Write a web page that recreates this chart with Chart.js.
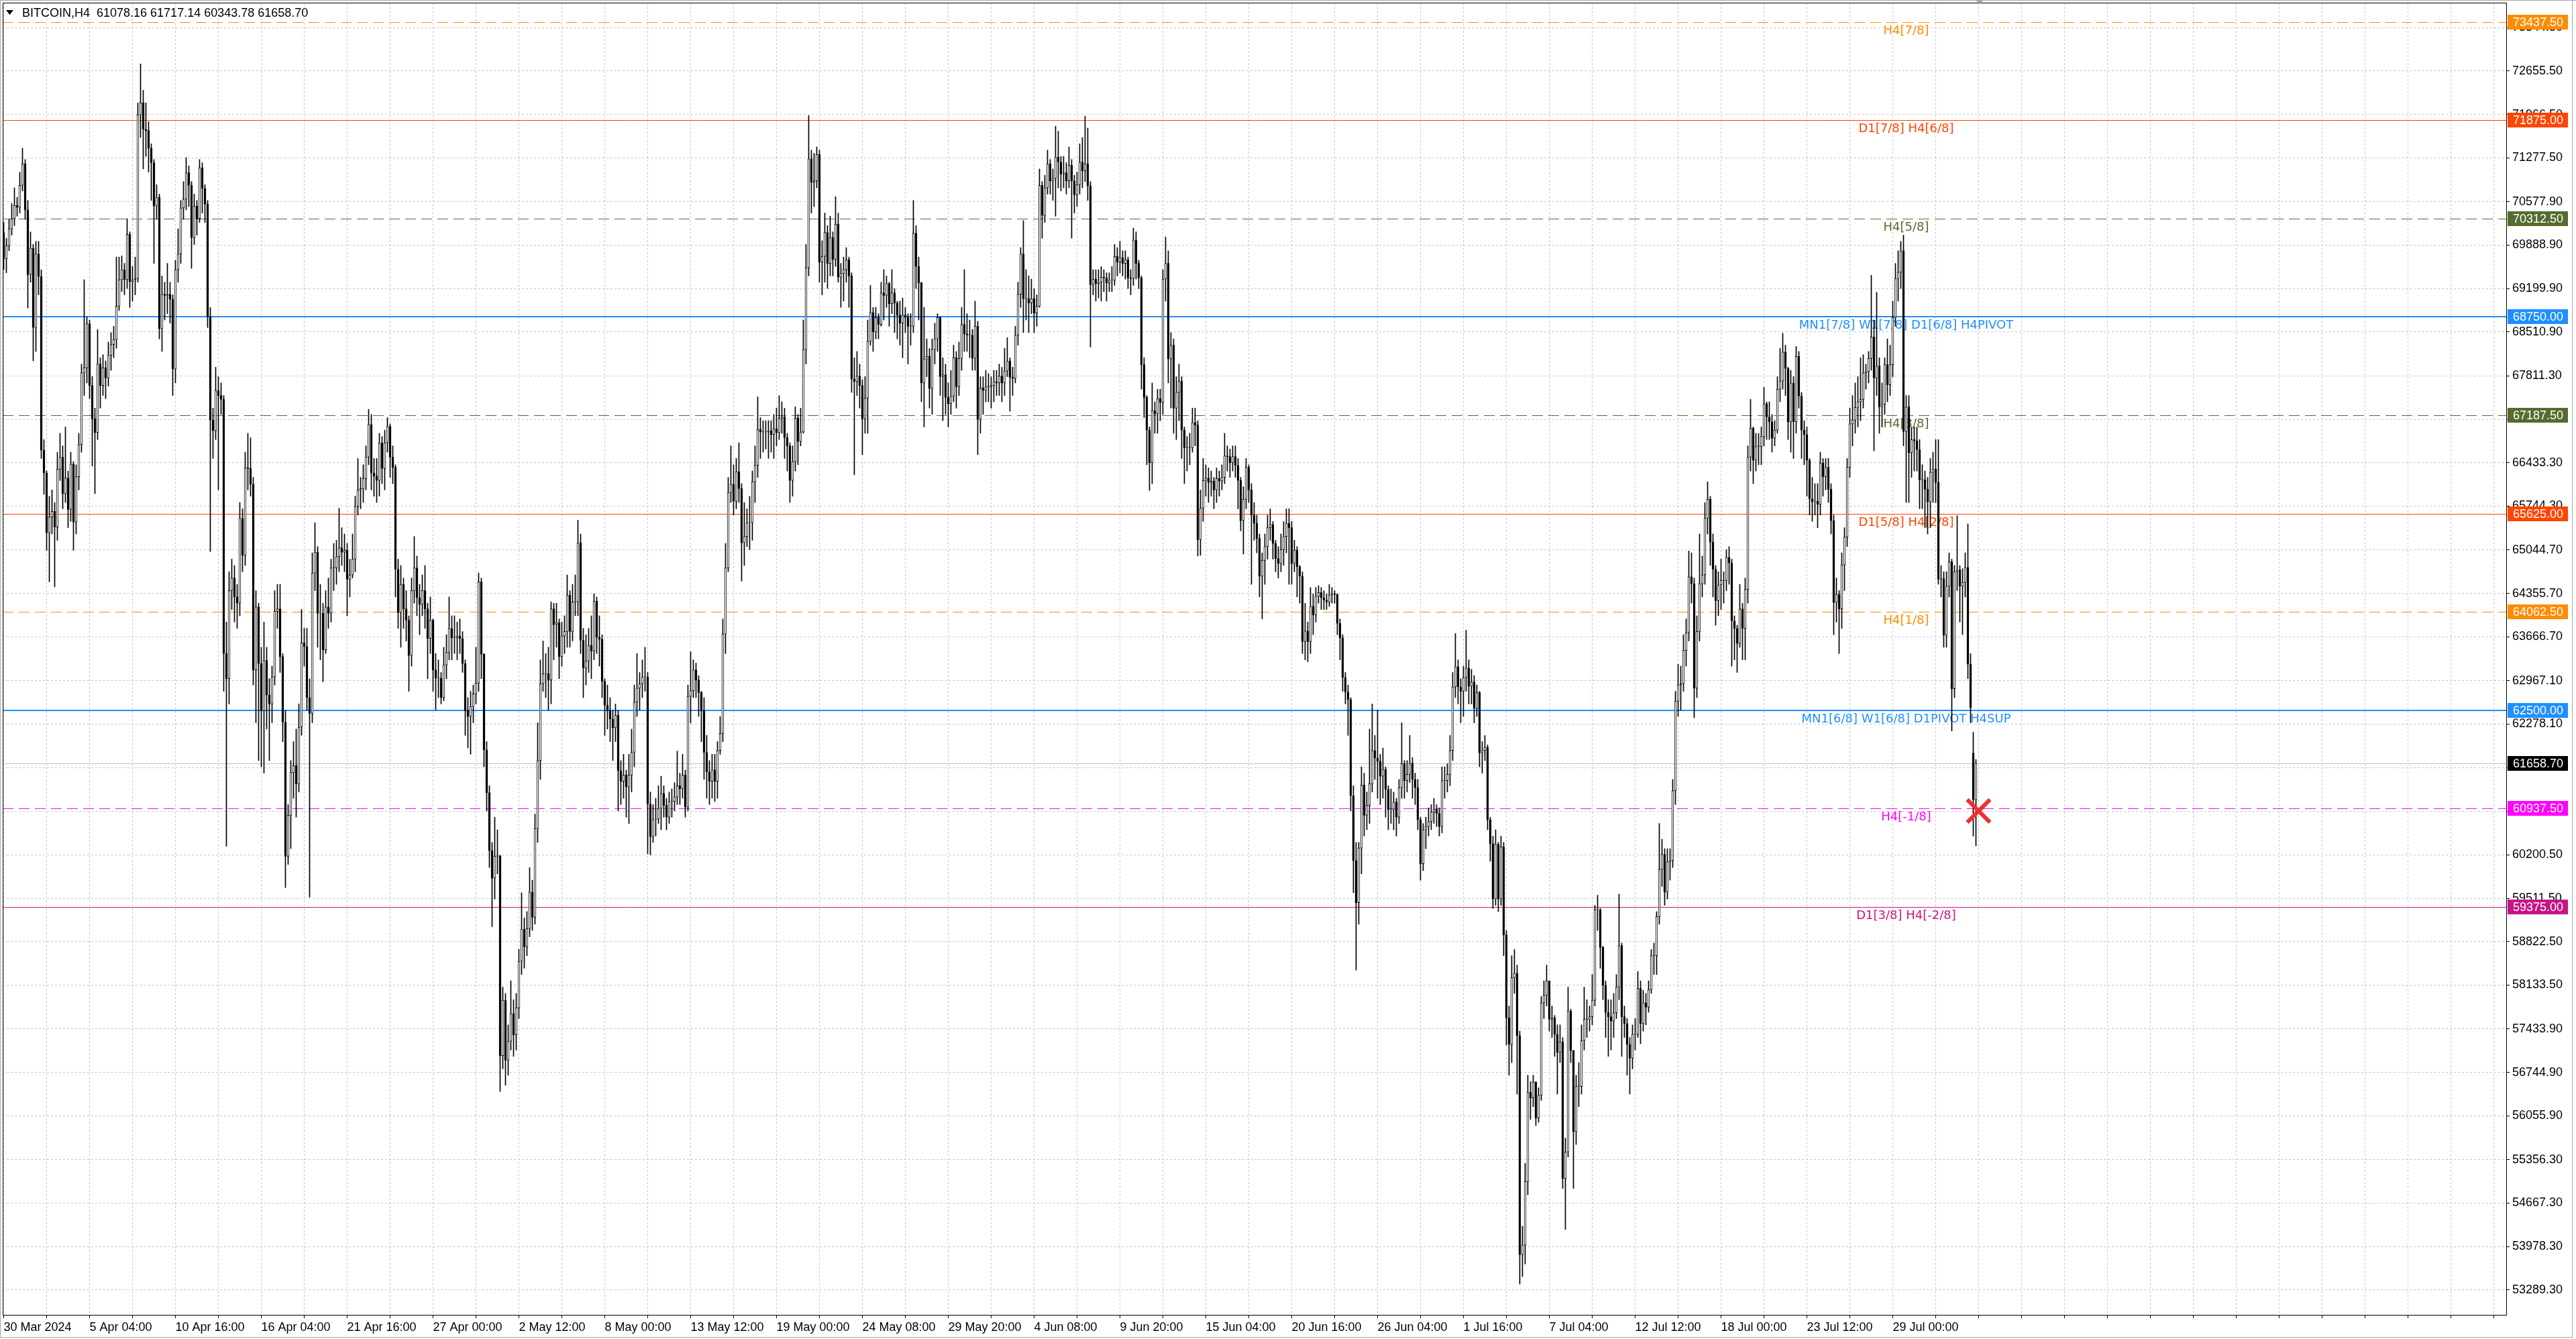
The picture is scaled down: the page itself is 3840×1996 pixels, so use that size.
<!DOCTYPE html>
<html>
<head>
<meta charset="utf-8">
<script src="https://cdn.jsdelivr.net/npm/chart.js@4.4.1/dist/chart.umd.min.js"></script>
<style>
html,body{margin:0;padding:0;background:#ffffff;overflow:hidden}
#wrap{position:relative;width:3840px;height:1996px}
canvas{display:block}
</style>
</head>
<body>
<div id="wrap"><canvas id="c" width="3840" height="1996"></canvas></div>
<script>
// ---------------- data ----------------
const symbolName = 'BITCOIN,H4';

const timeLabels = ['30 Mar 2024','5 Apr 04:00','10 Apr 16:00','16 Apr 04:00','21 Apr 16:00','27 Apr 00:00',
  '2 May 12:00','8 May 00:00','13 May 12:00','19 May 00:00','24 May 08:00','29 May 20:00','4 Jun 08:00',
  '9 Jun 20:00','15 Jun 04:00','20 Jun 16:00','26 Jun 04:00','1 Jul 16:00','7 Jul 04:00','12 Jul 12:00',
  '18 Jul 00:00','23 Jul 12:00','29 Jul 00:00'];

const yTickValues = [73344.5,72655.5,71966.5,71277.5,70577.9,69888.9,69199.9,68510.9,67811.3,67122.3,66433.3,
  65744.3,65044.7,64355.7,63666.7,62967.1,62278.1,61589.1,60889.5,60200.5,59511.5,58822.5,58133.5,57433.9,
  56744.9,56055.9,55356.3,54667.3,53978.3,53289.3];

const opens = [
70090,69670,69880,70150,70310,70520,70490,70840,71180,70450,
69420,69840,68580,69750,69390,66630,66270,65320,65570,65660,
65410,66330,66520,65940,66190,65690,66410,65490,66210,66720,
67860,67940,68640,67660,67130,66910,68000,67660,67940,67780,
68140,68310,68390,68920,69340,69500,69340,70060,69310,69340,
69360,71960,72150,71730,71710,71430,71200,70510,70650,68560,
69110,69090,69110,69030,67920,69500,69750,70480,70620,71040,
70840,70010,70510,70310,71120,70790,70540,68750,67110,66940,
67580,67500,67440,63400,63000,64400,64600,64300,64200,65550,
64960,66350,66340,66090,63140,64140,63240,62490,63290,62740,
62600,63030,64070,64110,63350,62310,60180,60830,61510,61620,
61330,62230,63570,63510,62700,62450,64680,65010,64040,64040,
63460,64140,64040,64760,64760,64940,65080,65010,65040,64580,
64650,64900,65740,66000,66020,66180,66520,67040,66270,66220,
66150,66750,66340,66750,67010,66520,66360,64740,64050,64500,
64110,63930,63370,64400,64760,64290,64180,64400,64110,63640,
63930,63140,63010,63010,62700,63220,63420,63800,63650,63650,
63680,63640,63240,62490,62400,62560,62760,62930,64540,63390,
61870,61190,60270,59830,60180,60180,57010,57890,56940,57240,
57680,57340,57770,58510,59020,58740,59030,59610,59210,60620,
61700,62920,63080,63080,62980,64110,63860,63890,63350,63680,
63750,64330,63750,64220,64220,65160,63610,63170,63280,63530,
63440,64230,63660,63630,62960,62580,62490,62360,62220,62420,
61540,61370,61470,61280,61470,61830,62630,62850,62920,63030,
63030,61010,60490,60760,60770,60940,61180,60990,60800,61050,
61050,61120,61300,61250,61470,60960,62720,62810,63140,62980,
62780,62490,61830,61520,61370,61550,61370,61860,62130,63710,
64760,65960,66090,65820,66290,66020,65160,65260,65480,65480,
66130,66390,66960,66920,66920,66920,66940,66880,66970,66910,
67140,67160,66830,66700,66150,66450,67140,66770,66920,68230,
69530,71260,70890,70910,71330,69620,69710,70090,69600,70010,
69660,70220,69380,69440,69500,69660,69400,67760,67720,67810,
67660,67130,67460,68360,68820,68510,68740,68630,69130,69090,
69280,68960,69130,68970,68780,68650,68780,68740,68600,68600,
70080,69550,69290,67700,68080,68120,67610,68230,68400,68740,
67800,67830,67470,67370,67490,68100,67640,68090,68630,68480,
68460,68460,68090,68600,67120,67620,67580,67640,67640,67660,
67720,67700,67810,67700,67890,68050,67790,67770,68460,69110,
69750,69040,69040,68970,69040,68810,68920,70840,70360,70800,
71180,70910,70950,71290,71210,71020,71040,70910,71160,70910,
70690,70850,71210,71070,71180,70830,69260,69350,69280,69300,
69380,69370,69290,69330,69330,69710,69620,69690,69600,69660,
69370,69360,69970,69600,69370,67990,67470,66950,66430,67260,
67210,67450,67390,69350,69600,68080,68300,67300,67550,67730,
66950,66670,66670,66670,67070,67030,65210,65710,66150,66190,
66120,66140,66000,66180,66140,66200,66540,66530,66430,66530,
66390,66150,65510,65850,66360,66000,65600,65470,65230,64630,
64880,65100,65400,65450,65150,64910,64830,65050,65260,65470,
65400,64830,65040,64780,64630,63590,63760,63590,64150,64010,
64310,64370,64290,64250,64220,64330,64350,64340,63880,63650,
63020,62790,62670,61140,60110,59440,60310,61310,60830,60990,
61330,61860,61740,61690,61450,61560,61240,60920,60920,61040,
60800,61270,61650,61380,61480,61660,61400,61270,60760,60060,
60600,60650,60730,60880,60930,60860,60650,61380,61380,61480,
61860,62870,63190,62870,62800,63020,63170,62880,62950,62530,
62780,61820,61860,61910,60760,60380,59500,60370,59500,60330,
58930,57610,57190,58250,58320,57330,53850,54000,55010,56430,
56340,56590,56020,56380,57850,57970,58200,57590,57610,57350,
57060,57230,55060,55480,57720,57090,55800,56520,56520,57250,
57590,57590,57630,57890,59330,59330,58730,58130,57700,57630,
57560,57690,58100,58760,57630,57520,57190,56970,57350,57350,
58080,57520,57850,57780,58060,58600,58600,59220,59970,60210,
59610,60090,60110,61220,62640,62900,62920,63450,63730,64620,
64510,62850,63750,64510,64650,65550,65850,65170,64740,64240,
64490,64560,64560,64930,64840,63920,63800,63560,64110,63800,
64420,66520,66980,66470,66690,66690,66850,67370,67160,67080,
66820,66950,67600,67730,68190,67930,67080,67700,67080,68120,
67490,66950,66880,66470,65860,65810,65820,65770,66430,66210,
66360,66010,65510,64210,64340,64110,64810,65250,66360,67050,
67110,67310,67400,67440,67860,67880,68090,68430,67780,67970,
67320,67360,67990,67670,67990,68740,69360,69460,69800,66930,
67320,66590,66800,66780,66640,66160,66160,66010,65810,66280,
66330,66120,64580,64590,63690,64470,64860,62840,64700,64730,
64470,64530,64770,63230,61820,61078.16];

const highs = [
70250,70000,70300,70550,70800,70650,71050,71430,71250,70600,
70100,69900,69950,69950,69500,66800,66300,65900,66000,65800,
66600,66900,66700,67000,66300,66600,66450,66400,66900,68000,
69340,68750,68700,67800,67300,68550,68100,68150,68050,68350,
68500,68600,69700,69700,69720,69600,70310,70100,69550,69700,
72150,72770,72350,72150,71850,71500,71250,70850,70700,69400,
69300,69600,69300,69100,69650,70150,70600,70900,71280,71150,
70900,70700,70600,71250,71200,70850,70600,68900,67300,67950,
67800,67700,67500,63900,64700,64900,64800,64500,65800,65700,
66600,66900,66830,66200,64400,64200,63500,63900,63500,63000,
63200,64400,64500,64500,63400,62500,61000,61700,62000,62200,
62600,64100,63800,63800,63000,65000,65480,65100,64500,64200,
64400,64600,64900,65150,65200,65710,65400,65300,65150,64900,
65300,65900,66500,66200,66400,66700,67280,67200,66500,66500,
66900,66850,66950,67150,67050,66700,66400,64900,64800,64600,
64400,64000,64600,65260,64950,64500,64650,64800,64200,64300,
63950,63400,63300,63100,63500,63700,64300,64000,64000,63900,
63950,63750,63300,62700,62800,62900,63500,64680,64600,63400,
62000,61300,60400,60800,60600,60200,58100,58000,57500,58200,
57900,58000,58700,59600,59200,59300,60000,59800,60850,62300,
63300,63600,63400,63500,64220,64200,64200,63950,63900,64000,
64650,64400,64500,64650,65520,65300,63800,63700,63800,64000,
64350,64300,64000,63700,63000,62900,62700,62500,62600,62500,
61700,61800,61550,61800,62200,62900,63400,63100,63300,63500,
63100,61200,61000,61100,61300,61450,61300,61100,61200,61250,
61350,61850,61500,61800,61550,62900,63430,63300,63250,63050,
62800,62700,62100,61700,61800,61800,62000,62400,63950,65150,
66200,66700,66400,66500,66750,66100,65800,65700,65900,66300,
66700,67480,67150,67100,67100,67100,67100,67200,67300,67500,
67400,67300,66900,66750,66700,67320,67200,67300,68700,69900,
71950,71400,71350,71450,71400,69960,70400,70200,70350,70100,
70660,70400,69600,69700,69850,69700,69450,68100,68200,68000,
67750,67800,68700,69250,68900,68900,68800,69300,69500,69400,
69300,69500,69200,69000,69000,69050,68900,68800,68800,70600,
70200,69700,69300,68900,68400,68250,68400,68650,68800,68750,
68100,68000,67700,67900,68300,68200,68350,68900,69500,68800,
68700,68550,69000,68680,67800,67800,67900,67850,67800,67900,
67900,68000,67950,68250,68420,68100,67950,68600,69300,69850,
70280,69500,69400,69350,69200,69100,71100,70900,71000,71400,
71250,71100,71780,71700,71300,71300,71200,71450,71250,71000,
71050,71500,71600,71940,71750,70900,69500,69500,69500,69550,
69500,69450,69450,69550,69900,69850,69950,69800,69800,69700,
69500,70160,70100,69650,69400,68100,67500,67000,67700,67400,
67600,67600,69500,70020,69800,68500,68400,67800,68000,67800,
67000,66850,66900,67300,67300,67100,66000,66500,66400,66350,
66300,66200,66350,66300,66400,66900,66700,66650,66700,66700,
66500,66200,66050,66500,66400,66100,65800,65600,65300,65000,
65300,65600,65700,65500,65200,65100,65300,65500,65700,65700,
65500,65200,65100,64800,64700,64200,63900,64450,64350,64450,
64480,64450,64400,64350,64500,64450,64400,64350,63950,63700,
63100,62900,62700,61300,60400,60400,61600,61500,61200,62200,
62600,62100,62500,61800,61900,61600,61300,61250,61200,61100,
61400,62300,61700,61700,62100,61750,61500,61400,60800,60700,
60800,60950,61000,61100,61000,60950,61600,61600,61650,62100,
63100,63720,63300,63000,63200,63770,63300,63150,63050,62900,
62800,62000,62100,61950,60800,60500,60600,60400,60500,60400,
59000,57800,58600,58700,58450,57400,54300,55300,56700,56600,
56700,56600,56500,57950,58200,58450,58200,57800,57650,57500,
57500,57300,55700,58100,57750,57100,56700,56900,57500,58100,
57900,57800,58300,59400,59560,59350,58750,58200,57900,57900,
58000,58300,59580,58800,57800,57600,57300,57500,57600,58350,
58200,58050,58000,58200,58700,58800,59300,60700,60450,60300,
60300,60300,61400,62800,63230,63200,63700,63950,65030,65000,
64600,64000,65300,64950,65800,66130,65900,65300,64800,64700,
64900,64700,65050,65100,64900,64000,63850,64500,64200,64600,
66700,67440,67000,66900,66900,67000,67630,67400,67400,67200,
67100,67800,68250,68490,68300,67950,67900,67800,68280,68200,
67550,67100,67000,66500,66200,66100,66100,66600,66500,66500,
66500,66100,65600,64600,64400,65000,65400,66500,67300,67500,
67700,67800,68100,68150,68000,68200,69410,68700,69140,68100,
67700,68100,68400,68300,69000,69600,69800,69950,70050,67500,
67500,67000,67000,67000,66800,66400,66300,66200,66500,66600,
66800,66800,64800,64700,64700,65000,64900,64800,65590,64800,
64750,65000,65460,63400,62150,61717.14];

const lows = [
69500,69450,69800,70050,70200,70350,70400,70750,70300,68890,
69300,68050,68200,69100,66500,65930,65040,64540,65300,64460,
65200,66150,65700,65800,65400,65500,65040,65300,66000,66600,
67500,67700,67450,66380,65940,66800,67300,67500,67450,67650,
67900,68100,68250,68850,69150,69100,69200,68900,69000,69100,
69300,71600,71100,71300,71050,70600,69600,70300,68400,68200,
68700,68800,68650,67500,67700,69300,69600,70300,70450,70500,
69520,69900,70050,70250,70400,70250,68580,65020,66500,66800,
66000,67200,62800,60340,62600,64100,63900,63800,64000,64700,
64800,66000,65900,62900,62300,61700,61600,61500,62200,61700,
62300,62900,63800,63100,62000,59680,60050,60300,61100,60800,
61200,62100,63200,62500,59530,62300,64400,63500,63300,62950,
63400,63800,63900,64400,64500,64700,64800,64700,64000,64300,
64600,64700,65600,65700,65800,66000,66400,66000,65900,65800,
65900,66100,66000,66600,66200,66100,64300,63800,63500,63800,
63600,62800,63200,64200,64000,63700,64000,63800,63000,63400,
62800,62500,62700,62600,62650,63000,63300,63300,63400,63300,
63400,63100,62100,61900,61800,62300,62600,62800,63000,61600,
60900,60000,59060,59500,59900,56440,56800,56540,56700,57100,
57000,57100,57600,58300,58400,58600,58900,59000,59100,60400,
61400,62800,62700,62500,62600,63300,63500,63000,63200,63400,
63500,63500,63600,64000,64000,63400,62700,62900,63100,63000,
63300,63400,63200,62700,62100,62200,62000,61700,62000,60900,
61000,61100,60800,60700,61200,61600,62400,62500,62700,62800,
60220,60200,60400,60500,60700,60600,60800,60600,60700,60800,
60900,61000,61000,61100,60800,60900,62300,62700,62700,62400,
62000,61400,61100,61000,61100,61050,61100,61800,62000,63400,
64700,65800,65600,65700,65800,64550,64800,65100,65050,65200,
65800,66200,66500,66600,66650,66500,66600,66500,66700,66800,
66900,66500,66300,65800,65900,66300,66400,66700,66900,68000,
69400,70400,70500,70800,69300,69100,69300,69200,69400,69400,
69550,69300,68900,69000,69300,68900,67550,66240,67500,67300,
66560,66900,66900,68300,68200,68400,68400,68600,68700,68900,
68600,68800,68500,68400,68300,68100,68500,68000,68300,68500,
69200,68700,67400,67000,67800,67300,67200,68000,68200,67500,
67100,67200,67000,67200,67400,67300,67500,67900,68200,68200,
68100,67900,67900,66560,66900,67200,67400,67400,67300,67400,
67500,67500,67400,67500,67800,67250,67500,67700,68300,68900,
68500,68700,68500,68800,68500,68600,68900,70000,70250,70700,
70700,70600,70350,70800,70750,70800,70700,70800,70000,70400,
70500,70700,70800,70900,70600,68270,69100,69000,69050,69000,
69150,69000,69150,69150,69250,69400,69450,69400,69350,69200,
69100,69250,69350,69200,67600,67150,66400,65990,66100,66900,
66900,67100,67200,69000,67700,67300,66900,66800,67100,66500,
66100,66300,66400,66600,66700,64950,64960,65500,65900,65800,
65900,65700,65800,65900,66000,66100,66300,66200,66300,66200,
65700,65350,64980,65700,65800,64500,65200,65000,64300,63950,
64500,64900,65200,64900,64700,64600,64700,64800,65000,64500,
64500,64700,64300,64200,63400,63300,63270,63400,63700,63900,
64200,64100,64100,64100,64150,64200,64200,63700,63300,62800,
62600,62100,60900,59600,58370,59100,59900,60500,60600,60700,
61200,61400,61100,61000,61100,60800,60600,60700,60600,60500,
60700,61100,61100,61200,61350,61100,61000,60600,59800,59950,
60300,60500,60600,60700,60650,60500,60550,61100,61200,61300,
61700,62700,62600,62300,62400,62800,62600,62600,62300,62400,
61600,61500,61700,60600,60100,59350,59400,59300,59400,58600,
57180,56700,56900,58000,56400,53380,53500,53700,54800,56000,
56200,55900,55950,56300,57600,57800,57400,57300,57000,56400,
56900,54900,54250,55400,56900,54900,55600,56200,56400,57100,
57300,57400,57500,57800,59000,58400,57900,57300,57000,57100,
57300,57600,57900,57000,57300,56700,56400,56800,57100,57300,
57200,57400,57500,57700,58000,58300,58300,59100,59700,59400,
59500,59800,60000,61000,62400,62500,62800,63200,63600,64200,
62380,62700,63600,64300,64500,65300,64800,64300,63850,64000,
64100,64200,64400,64500,63200,63300,63100,63500,63300,63300,
64200,66300,66100,66300,66400,66400,66700,66800,66800,66600,
66700,66900,67400,67600,67500,66800,66600,66500,66900,67300,
66500,66400,65900,65600,65500,65600,65400,65600,65900,66000,
65800,65300,63700,63900,63400,63800,64400,65100,66200,66700,
66900,67000,67100,67300,67600,67700,67900,66620,67500,66900,
67000,67200,67400,67500,67800,68600,69000,69200,66700,65800,
65800,66200,66300,66300,65700,65700,65400,65300,65400,65800,
65800,64500,64300,63500,63500,64300,62170,62700,64400,63900,
63700,64300,63000,62300,60500,60343.78];

const closes = [
69670,69880,70150,70310,70520,70490,70840,71180,70450,69420,
69840,68580,69750,69390,66630,66270,65320,65570,65660,65410,
66330,66520,65940,66190,65690,66410,65490,66210,66720,67860,
67940,68640,67660,67130,66910,68000,67660,67940,67780,68140,
68310,68390,68920,69340,69500,69340,70060,69310,69340,69360,
71960,72150,71730,71710,71430,71200,70510,70650,68560,69110,
69090,69110,69030,67920,69500,69750,70480,70620,71040,70840,
70010,70510,70310,71120,70790,70540,68750,67110,66940,67580,
67500,67440,63400,63000,64400,64600,64300,64200,65550,64960,
66350,66340,66090,63140,64140,63240,62490,63290,62740,62600,
63030,64070,64110,63350,62310,60180,60830,61510,61620,61330,
62230,63570,63510,62700,62450,64680,65010,64040,64040,63460,
64140,64040,64760,64760,64940,65080,65010,65040,64580,64650,
64900,65740,66000,66020,66180,66520,67040,66270,66220,66150,
66750,66340,66750,67010,66520,66360,64740,64050,64500,64110,
63930,63370,64400,64760,64290,64180,64400,64110,63640,63930,
63140,63010,63010,62700,63220,63420,63800,63650,63650,63680,
63640,63240,62490,62400,62560,62760,62930,64540,63390,61870,
61190,60270,59830,60180,60180,57010,57890,56940,57240,57680,
57340,57770,58510,59020,58740,59030,59610,59210,60620,61700,
62920,63080,63080,62980,64110,63860,63890,63350,63680,63750,
64330,63750,64220,64220,65160,63610,63170,63280,63530,63440,
64230,63660,63630,62960,62580,62490,62360,62220,62420,61540,
61370,61470,61280,61470,61830,62630,62850,62920,63030,63030,
61010,60490,60760,60770,60940,61180,60990,60800,61050,61050,
61120,61300,61250,61470,60960,62720,62810,63140,62980,62780,
62490,61830,61520,61370,61550,61370,61860,62130,63710,64760,
65960,66090,65820,66290,66020,65160,65260,65480,65480,66130,
66390,66960,66920,66920,66920,66940,66880,66970,66910,67140,
67160,66830,66700,66150,66450,67140,66770,66920,68230,69530,
71260,70890,70910,71330,69620,69710,70090,69600,70010,69660,
70220,69380,69440,69500,69660,69400,67760,67720,67810,67660,
67130,67460,68360,68820,68510,68740,68630,69130,69090,69280,
68960,69130,68970,68780,68650,68780,68740,68600,68600,70080,
69550,69290,67700,68080,68120,67610,68230,68400,68740,67800,
67830,67470,67370,67490,68100,67640,68090,68630,68480,68460,
68460,68090,68600,67120,67620,67580,67640,67640,67660,67720,
67700,67810,67700,67890,68050,67790,67770,68460,69110,69750,
69040,69040,68970,69040,68810,68920,70840,70360,70800,71180,
70910,70950,71290,71210,71020,71040,70910,71160,70910,70690,
70850,71210,71070,71180,70830,69260,69350,69280,69300,69380,
69370,69290,69330,69330,69710,69620,69690,69600,69660,69370,
69360,69970,69600,69370,67990,67470,66950,66430,67260,67210,
67450,67390,69350,69600,68080,68300,67300,67550,67730,66950,
66670,66670,66670,67070,67030,65210,65710,66150,66190,66120,
66140,66000,66180,66140,66200,66540,66530,66430,66530,66390,
66150,65510,65850,66360,66000,65600,65470,65230,64630,64880,
65100,65400,65450,65150,64910,64830,65050,65260,65470,65400,
64830,65040,64780,64630,63590,63760,63590,64150,64010,64310,
64370,64290,64250,64220,64330,64350,64340,63880,63650,63020,
62790,62670,61140,60110,59440,60310,61310,60830,60990,61330,
61860,61740,61690,61450,61560,61240,60920,60920,61040,60800,
61270,61650,61380,61480,61660,61400,61270,60760,60060,60600,
60650,60730,60880,60930,60860,60650,61380,61380,61480,61860,
62870,63190,62870,62800,63020,63170,62880,62950,62530,62780,
61820,61860,61910,60760,60380,59500,60370,59500,60330,58930,
57610,57190,58250,58320,57330,53850,54000,55010,56430,56340,
56590,56020,56380,57850,57970,58200,57590,57610,57350,57060,
57230,55060,55480,57720,57090,55800,56520,56520,57250,57590,
57590,57630,57890,59330,59330,58730,58130,57700,57630,57560,
57690,58100,58760,57630,57520,57190,56970,57350,57350,58080,
57520,57850,57780,58060,58600,58600,59220,59970,60210,59610,
60090,60110,61220,62640,62900,62920,63450,63730,64620,64510,
62850,63750,64510,64650,65550,65850,65170,64740,64240,64490,
64560,64560,64930,64840,63920,63800,63560,64110,63800,64420,
66520,66980,66470,66690,66690,66850,67370,67160,67080,66820,
66950,67600,67730,68190,67930,67080,67700,67080,68120,67490,
66950,66880,66470,65860,65810,65820,65770,66430,66210,66360,
66010,65510,64210,64340,64110,64810,65250,66360,67050,67110,
67310,67400,67440,67860,67880,68090,68430,67780,67970,67320,
67360,67990,67670,67990,68740,69360,69460,69800,66930,67320,
66590,66800,66780,66640,66160,66160,66010,65810,66280,66330,
66120,64580,64590,63690,64470,64860,62840,64700,64730,64470,
64530,64770,63230,62540,61078.16,61658.70];

// horizontal level objects
const levelPrices = [73437.5, 71875, 70312.5, 68750, 67187.5, 65625, 64062.5, 62500, 60937.5, 59375];
const levelNames = ['H4[7/8]', 'D1[7/8] H4[6/8]', 'H4[5/8]', 'MN1[7/8] W1[7/8] D1[6/8] H4PIVOT', 'H4[3/8]',
  'D1[5/8] H4[2/8]', 'H4[1/8]', 'MN1[6/8] W1[6/8] D1PIVOT H4SUP', 'H4[-1/8]', 'D1[3/8] H4[-2/8]'];

// signal mark (red cross)
const signalBars = [736];
const signalPrices = [60900];

// ---------------- styles ----------------
const ORANGE = '#FF8C00', ORED = '#FF4500', OLIVE = '#556B2F', BLUE = '#1E90FF', MAGENTA = '#FF00FF', MVRED = '#C71585';
const LEVEL_STYLE = [
  {color: ORANGE, dash: [16, 8], width: 1},
  {color: ORED, dash: [], width: 1},
  {color: OLIVE, dash: [16, 8], width: 1},
  {color: BLUE, dash: [], width: 2},
  {color: OLIVE, dash: [16, 8], width: 1},
  {color: ORED, dash: [], width: 1},
  {color: ORANGE, dash: [16, 8], width: 1},
  {color: BLUE, dash: [], width: 2},
  {color: MAGENTA, dash: [16, 8], width: 1},
  {color: MVRED, dash: [], width: 1}
];
const AXIS_FAMILY = "'Liberation Sans', Arial, sans-serif";
const AXIS_FONT = {family: AXIS_FAMILY, size: 18};
const LABEL_FONT = "18px 'DejaVu Sans', Verdana, sans-serif";
const LABEL_BAR = 709;      // x position (bar) where level names are centred
const GRID_COLOR = '#c6c6c6';

// ---------------- derived chart data ----------------
const idx = closes.map((_, i) => i);
const wickData = idx.map(i => ({x: i, y: [Math.min(lows[i], opens[i], closes[i]), Math.max(highs[i], opens[i], closes[i])]}));
const bodyData = idx.map(i => ({x: i, y: [opens[i], closes[i]]}));
const bodyFill = idx.map(i => closes[i] >= opens[i] ? '#ffffff' : '#000000');
const last = closes.length - 1;
const fmt = v => Number(v).toFixed(2);

function hline(ctx, x1, x2, y) { ctx.beginPath(); ctx.moveTo(x1, y); ctx.lineTo(x2, y); ctx.stroke(); }

const mtPlugin = {
  id: 'mtObjects',
  beforeDatasetsDraw(chart) {
    const {ctx, chartArea: a, scales: {x, y}} = chart;
    ctx.save();
    ctx.beginPath();
    ctx.rect(a.left, a.top, a.right - a.left, a.bottom - a.top);
    ctx.clip();
    // current price line
    ctx.setLineDash([]);
    ctx.strokeStyle = '#c0c0c0';
    ctx.lineWidth = 1;
    hline(ctx, a.left, a.right, Math.round(y.getPixelForValue(closes[last])) + 0.5);
    // levels
    const lx = x.getPixelForValue(LABEL_BAR);
    levelPrices.forEach((p, k) => {
      const st = LEVEL_STYLE[k];
      const py = y.getPixelForValue(p);
      const yy = st.width === 2 ? Math.round(py) : Math.round(py) + 0.5;
      ctx.strokeStyle = st.color;
      ctx.lineWidth = st.width;
      ctx.setLineDash(st.dash);
      hline(ctx, a.left, a.right, yy);
      ctx.setLineDash([]);
      ctx.fillStyle = st.color;
      ctx.font = LABEL_FONT;
      ctx.textAlign = 'center';
      ctx.textBaseline = 'top';
      ctx.fillText(levelNames[k], lx, Math.round(py) + 4);
    });
    ctx.restore();
  },
  afterDraw(chart) {
    const {ctx, chartArea: a, scales: {x, y}} = chart;
    ctx.save();
    // plot frame
    ctx.setLineDash([]);
    ctx.strokeStyle = '#000000';
    ctx.lineWidth = 1;
    ctx.strokeRect(a.left + 0.5, a.top + 0.5, a.right - a.left - 1, a.bottom - a.top - 1);
    // price boxes on the right axis
    const box = (p, color) => {
      const py = Math.round(y.getPixelForValue(p));
      ctx.fillStyle = color;
      ctx.fillRect(a.right + 1, py - 11, 90, 22);
      ctx.fillStyle = '#ffffff';
      ctx.font = '18px ' + AXIS_FAMILY;
      ctx.textAlign = 'left';
      ctx.textBaseline = 'middle';
      ctx.fillText(fmt(p), a.right + 9, py + 1);
    };
    levelPrices.forEach((p, k) => box(p, LEVEL_STYLE[k].color));
    box(closes[last], '#000000');
    // header
    ctx.fillStyle = '#000000';
    ctx.beginPath();
    ctx.moveTo(9, 15); ctx.lineTo(20, 15); ctx.lineTo(14.5, 22); ctx.closePath(); ctx.fill();
    ctx.font = '18px ' + AXIS_FAMILY;
    ctx.textAlign = 'left';
    ctx.textBaseline = 'middle';
    ctx.fillText(symbolName + '  ' + [opens[last], highs[last], lows[last], closes[last]].map(fmt).join(' '), 33, 20);
    // chart shift marker
    const sx = Math.round(x.getPixelForValue(736.4));
    ctx.fillStyle = '#a0a0a0';
    ctx.beginPath();
    ctx.moveTo(sx - 6, 0); ctx.lineTo(sx + 6, 0); ctx.lineTo(sx, 6); ctx.closePath(); ctx.fill();
    // window edges
    ctx.strokeStyle = '#a8a8a8';
    hline(ctx, 0, 3840, 0.5);
    hline(ctx, 0, 3835, 1993.5);
    ctx.beginPath(); ctx.moveTo(0.5, 0); ctx.lineTo(0.5, 1994); ctx.stroke();
    ctx.beginPath(); ctx.moveTo(3834.5, 0); ctx.lineTo(3834.5, 1994); ctx.stroke();
    ctx.restore();
  }
};

new Chart(document.getElementById('c'), {
  type: 'bar',
  data: {
    datasets: [
      {type: 'bar', data: wickData, backgroundColor: '#000000', borderWidth: 0, barThickness: 1, maxBarThickness: 1,
        grouped: false, order: 2},
      {type: 'bar', data: bodyData, backgroundColor: bodyFill, borderColor: '#000000', borderWidth: 1,
        borderSkipped: false, barThickness: 3, maxBarThickness: 3, minBarLength: 1, grouped: false, order: 1},
      {type: 'scatter', data: signalBars.map((b, k) => ({x: b, y: signalPrices[k]})), pointStyle: 'crossRot',
        pointRadius: 24, borderWidth: 6, borderColor: '#EE3030', backgroundColor: '#EE3030', order: 0}
    ]
  },
  options: {
    responsive: false,
    animation: false,
    devicePixelRatio: 1,
    events: [],
    layout: {autoPadding: false, padding: {left: 4, top: 4, right: 0, bottom: 0}},
    plugins: {legend: {display: false}, tooltip: {enabled: false}},
    scales: {
      x: {
        type: 'linear', min: -0.375, max: 932.875, offset: false,
        afterBuildTicks: s => { const t = []; for (let v = 0; v <= 928; v += 16) t.push({value: v}); s.ticks = t; },
        afterFit: s => { s.height = 35; s.paddingLeft = 0; s.paddingRight = 0; s.paddingTop = 0; s.paddingBottom = 0; },
        grid: {offset: false, color: GRID_COLOR, lineWidth: 1, drawTicks: true, tickLength: 4, tickColor: '#000000'},
        border: {display: false, dash: [3, 3]},
        ticks: {
          autoSkip: false, maxRotation: 0, minRotation: 0, align: 'start', padding: 3, color: '#000000', font: AXIS_FONT,
          callback: v => (v % 32 === 0 && v / 32 < timeLabels.length) ? timeLabels[v / 32] : ''
        }
      },
      y: {
        type: 'linear', position: 'right', min: 52882, max: 73742,
        afterBuildTicks: s => { s.ticks = yTickValues.map(v => ({value: v})); },
        afterFit: s => { s.width = 103; s.paddingTop = 0; s.paddingBottom = 0; s.paddingLeft = 0; s.paddingRight = 0; },
        grid: {color: GRID_COLOR, lineWidth: 1, drawTicks: true, tickLength: 4, tickColor: '#000000'},
        border: {display: false, dash: [3, 3]},
        ticks: {autoSkip: false, padding: 4, color: '#000000', font: AXIS_FONT, callback: v => fmt(v)}
      }
    }
  },
  plugins: [mtPlugin]
});
</script>
</body>
</html>
